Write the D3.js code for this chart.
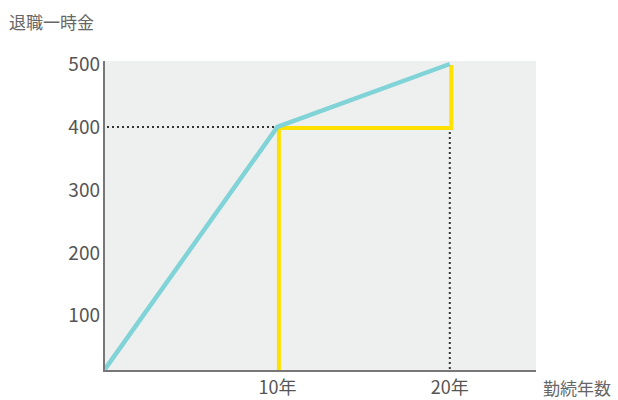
<!DOCTYPE html>
<html>
<head>
  <meta charset="utf-8">
  <style>
    body { margin: 0; background: #fff; }
    svg { display: block; font-family: "Noto Sans CJK JP", "Noto Sans", sans-serif; }
  </style>
</head>
<body>
  <div id="chart"></div>
  <script src="https://d3js.org/d3.v7.min.js"></script>
  <script>
    // データ
    const years = [0, 10, 20];
    const amounts = [15, 400, 500];
    const yTicks = [100, 200, 300, 400, 500];
    const xTicks = [10, 20];
    const xTickLabels = ["10年", "20年"];
    const yTitle = "退職一時金";
    const xTitle = "勤続年数";

    const width = 618, height = 400;
    const plotLeft = 105, plotRight = 536, plotTop = 64, plotBottom = 371;

    const svg = d3.select("#chart").append("svg")
      .attr("width", width)
      .attr("height", height);

    const x = d3.scaleLinear().domain([0, 25]).range([plotLeft, plotRight]);
    const y = d3.scaleLinear().domain([12, 500]).range([plotBottom, plotTop]);

    // 背景
    svg.append("rect")
      .attr("x", plotLeft)
      .attr("y", plotTop - 3)
      .attr("width", plotRight - plotLeft)
      .attr("height", plotBottom - plotTop + 3)
      .attr("fill", "#eeefef");

    // 点線
    svg.append("line")
      .attr("x1", plotLeft + 2).attr("x2", x(10))
      .attr("y1", y(400)).attr("y2", y(400))
      .attr("stroke", "#333").attr("stroke-width", 2)
      .attr("stroke-dasharray", "2,3");
    svg.append("line")
      .attr("x1", x(20)).attr("x2", x(20))
      .attr("y1", y(400)).attr("y2", plotBottom)
      .attr("stroke", "#333").attr("stroke-width", 2)
      .attr("stroke-dasharray", "2,3");

    // 黄色の線
    const yellow = [[10, 12], [10, 400], [20, 400], [20, 500]];
    svg.append("path")
      .attr("d", d3.line().x(d => x(d[0])).y(d => y(d[1]))(yellow))
      .attr("fill", "none")
      .attr("stroke", "#ffe100")
      .attr("stroke-width", 4)
      .attr("transform", "translate(1.5,1)");

    // 水色の線
    svg.append("path")
      .attr("d", d3.line().x((d, i) => x(years[i])).y(d => y(d))(amounts))
      .attr("fill", "none")
      .attr("stroke", "#80d3d6")
      .attr("stroke-width", 4.5)
      .attr("stroke-linejoin", "round");

    // 軸
    svg.append("line")
      .attr("x1", plotLeft - 1).attr("x2", plotLeft - 1)
      .attr("y1", plotTop - 3).attr("y2", plotBottom + 1)
      .attr("stroke", "#777").attr("stroke-width", 2);
    svg.append("line")
      .attr("x1", plotLeft - 2).attr("x2", plotRight)
      .attr("y1", plotBottom).attr("y2", plotBottom)
      .attr("stroke", "#777").attr("stroke-width", 2);

    // 目盛りラベル
    svg.selectAll(".ytick")
      .data(yTicks)
      .enter().append("text")
      .attr("x", plotLeft - 5)
      .attr("y", d => y(d))
      .attr("dy", "0.36em")
      .attr("text-anchor", "end")
      .attr("font-size", 19)
      .attr("fill", "#555")
      .text(d => d);

    svg.selectAll(".xtick")
      .data(xTicks)
      .enter().append("text")
      .attr("x", d => x(d))
      .attr("y", 394)
      .attr("text-anchor", "middle")
      .attr("font-size", 18)
      .attr("fill", "#555")
      .text((d, i) => xTickLabels[i]);

    svg.append("text")
      .attr("x", 9).attr("y", 29)
      .attr("font-size", 17)
      .attr("fill", "#666")
      .text(yTitle);

    svg.append("text")
      .attr("x", 543).attr("y", 395)
      .attr("font-size", 17)
      .attr("fill", "#666")
      .text(xTitle);
  </script>
</body>
</html>
